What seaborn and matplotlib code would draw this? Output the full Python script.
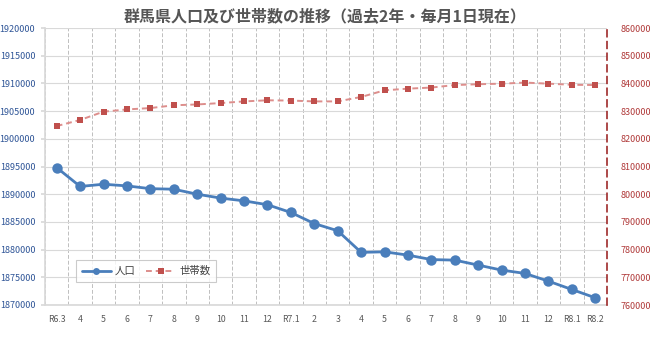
import matplotlib
matplotlib.use("Agg")
import matplotlib.pyplot as plt
import seaborn as sns
import pandas as pd
import numpy as np
from matplotlib.ticker import FixedLocator, MultipleLocator, StrMethodFormatter
from matplotlib.lines import Line2D

months = ["R6.3", "4", "5", "6", "7", "8", "9", "10", "11", "12",
          "R7.1", "2", "3", "4", "5", "6", "7", "8", "9", "10", "11", "12",
          "R8.1", "R8.2"]
population = [1894800, 1891400, 1891800, 1891500, 1891000, 1890900, 1890000,
              1889300, 1888800, 1888100, 1886700, 1884700, 1883400, 1879500,
              1879600, 1879000, 1878200, 1878100, 1877200, 1876300, 1875700,
              1874300, 1872800, 1871300]
households = [824600, 826800, 829800, 830600, 831100, 832100, 832400, 832900,
              833500, 833900, 833800, 833500, 833500, 835100, 837500, 838100,
              838500, 839400, 839700, 839900, 840300, 839900, 839500, 839400]
title = "群馬県人口及び世帯数の推移（過去2年・毎月1日現在）"
label_pop = "人口"
label_hh = "世帯数"

sns.set_theme(style="white")
plt.rcParams['font.family'] = ['Noto Sans CJK JP', 'DejaVu Sans']

df = pd.DataFrame({"x": np.arange(len(months)), "pop": population, "hh": households})

fig = plt.figure(figsize=(6.5, 3.42), dpi=100)
ax = fig.add_axes([45/650, 1 - 305/342, 562/650, 277/342])
ax2 = ax.twinx()

blue = "#4A7EBB"
red = "#C0504D"
red_line = "#DD8E8C"

sns.lineplot(data=df, x="x", y="pop", ax=ax, color=blue, linewidth=2,
             marker="o", markersize=7.5, markeredgewidth=0, legend=False)
sns.lineplot(data=df, x="x", y="hh", ax=ax2, color=red_line, linewidth=1.4,
             linestyle=(0, (3, 2)), legend=False)
sns.scatterplot(data=df, x="x", y="hh", ax=ax2, color=red, marker="s", s=22,
                linewidth=0, legend=False, zorder=5)

ax.set_xlim(-0.5, len(months) - 0.5)
ax.set_ylim(1870000, 1920000)
ax2.set_ylim(760000, 860000)
ax.yaxis.set_major_locator(MultipleLocator(5000))
ax2.yaxis.set_major_locator(MultipleLocator(10000))
ax.yaxis.set_major_formatter(StrMethodFormatter("{x:.0f}"))
ax2.yaxis.set_major_formatter(StrMethodFormatter("{x:.0f}"))

ax.set_xticks(np.arange(len(months)))
ax.set_xticklabels(months)
ax.xaxis.set_minor_locator(FixedLocator(np.arange(-0.5, len(months), 1.0)))
ax.tick_params(axis="x", which="major", length=0, labelsize=6.3, colors="#595959", pad=7)
ax.tick_params(axis="x", which="minor", length=4, color="#BFBFBF", width=0.8)
ax.tick_params(axis="y", length=3, color="#D9D9D9", labelsize=6.5, labelcolor="#2F5597", pad=4)
ax2.tick_params(axis="y", length=0, labelsize=6.5, labelcolor="#B03A3A", pad=10)

ax.grid(axis="y", which="major", color="#D9D9D9", linewidth=0.8)
ax.grid(axis="x", which="minor", color="#BFBFBF", linewidth=0.7, linestyle=(0, (4, 2)))
ax.set_axisbelow(True)

ax.spines["top"].set_visible(False)
ax2.spines["top"].set_visible(False)
ax.spines["right"].set_visible(False)
ax.spines["left"].set_color("#D9D9D9")
ax.spines["bottom"].set_color("#D9D9D9")
ax2.spines["left"].set_visible(False)
ax2.spines["bottom"].set_visible(False)
ax2.spines["right"].set_color("#9E2A2A")
ax2.spines["right"].set_linewidth(1.2)
ax2.spines["right"].set_linestyle((0, (4, 3)))

ax.set_xlabel("")
ax.set_ylabel("")
ax2.set_xlabel("")
ax2.set_ylabel("")

handles = [Line2D([], [], color=blue, linewidth=2, marker="o", markersize=5, markeredgewidth=0),
           Line2D([], [], color=red_line, linewidth=1.4, linestyle=(0, (3, 2)),
                  marker="s", markersize=5, markerfacecolor=red, markeredgewidth=0)]
leg = ax2.legend(handles, [label_pop, label_hh], loc="lower left",
                 bbox_to_anchor=(0.055, 0.083), borderaxespad=0,
                 ncol=2, frameon=True, fancybox=False, fontsize=7.5,
                 handlelength=2.8, borderpad=0.55, columnspacing=1.0,
                 handletextpad=0.4, labelcolor="#404040")
leg.get_frame().set_edgecolor("#BFBFBF")
leg.get_frame().set_linewidth(0.8)
leg.set_zorder(10)

fig.text(0.5, 1 - 16/342, title, ha="center", va="center", fontsize=11.5,
         fontweight="bold", color="#555555")

fig.patch.set_facecolor("white")
fig.savefig("out.png", dpi=100)
